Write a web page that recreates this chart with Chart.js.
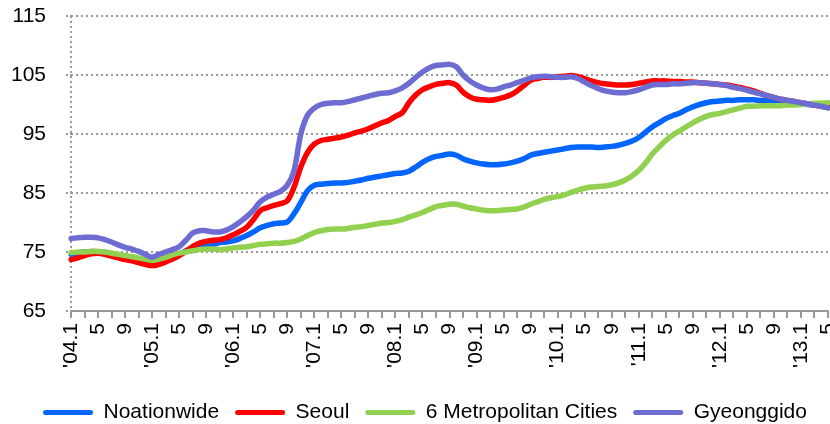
<!DOCTYPE html>
<html>
<head>
<meta charset="utf-8">
<script src="https://cdn.jsdelivr.net/npm/chart.js@4.4.1/dist/chart.umd.min.js"></script>
<style>
  body { margin: 0; background: #fff; }
  #wrap { width: 830px; height: 424px; position: relative; }
</style>
</head>
<body>
<div id="wrap"><canvas id="priceChart"></canvas></div>
<script>
// Monthly categories, Jan 2004 .. May 2013
const years = ['04', '05', '06', '07', '08', '09', '10', '11', '12', '13'];
const months = [];
years.forEach(function(yy) {
    const last = yy === '13' ? 5 : 12;
    for (let m = 1; m <= last; m++) months.push("'" + yy + '.' + m);
});

const nationwide = [
    74.6, 74.8, 75.0, 75.1, 75.0, 74.9, 74.7, 74.5, 74.2, 74.0, 73.8, 73.6,
    73.5, 73.7, 74.0, 74.3, 74.6, 75.2, 75.7, 75.9, 76.0, 76.2, 76.6, 76.7,
    76.9, 77.3, 77.8, 78.4, 79.1, 79.5, 79.8, 79.9, 80.1, 81.5, 83.4, 85.4,
    86.3, 86.5, 86.6, 86.7, 86.7, 86.8, 87.0, 87.2, 87.5, 87.7, 87.9, 88.1,
    88.3, 88.4, 88.7, 89.4, 90.2, 90.8, 91.2, 91.4, 91.6, 91.4, 90.8, 90.4,
    90.1, 89.9, 89.8, 89.8, 89.9, 90.1, 90.4, 90.8, 91.4, 91.7, 91.9, 92.1,
    92.3, 92.5, 92.7, 92.8, 92.8, 92.8, 92.7, 92.8, 92.9, 93.1, 93.4, 93.8,
    94.4, 95.3, 96.2, 96.9, 97.6, 98.1, 98.5, 99.1, 99.6, 100.0, 100.3, 100.5,
    100.6, 100.7, 100.7, 100.8, 100.8, 100.8, 100.7, 100.6, 100.4, 100.3, 100.3, 100.2,
    100.1, 100.0, 99.9, 99.8, 99.6
];

const seoul = [
    73.7, 74.0, 74.4, 74.7, 74.8, 74.6, 74.3, 74.0, 73.7, 73.5, 73.2, 72.9,
    72.7, 72.9, 73.3, 73.8, 74.4, 75.1, 75.9, 76.5, 76.8, 77.0, 77.1, 77.4,
    77.9, 78.5, 79.2, 80.5, 82.0, 82.5, 82.9, 83.2, 83.7, 86.0, 89.4, 91.9,
    93.3, 93.9, 94.1, 94.3, 94.5, 94.8, 95.2, 95.5, 95.9, 96.4, 96.9, 97.3,
    98.0, 98.6, 100.3, 101.6, 102.5, 103.0, 103.4, 103.6, 103.7, 103.3, 102.1, 101.3,
    100.9, 100.8, 100.7, 100.9, 101.2, 101.6, 102.3, 103.2, 104.1, 104.4, 104.6, 104.6,
    104.7, 104.8, 104.9, 104.7, 104.4, 104.0, 103.7, 103.5, 103.4, 103.3, 103.3, 103.4,
    103.6, 103.8, 104.0, 104.0, 104.0, 103.9, 103.9, 103.8, 103.8, 103.7, 103.6, 103.5,
    103.4, 103.3, 103.1, 102.9, 102.6, 102.3, 101.9, 101.5, 101.2, 100.9, 100.7, 100.5,
    100.3, 100.1, 99.9, 99.7, 99.5
];

const metroCities = [
    74.9, 75.0, 75.0, 75.1, 75.1, 75.0, 74.8, 74.6, 74.4, 74.2, 74.0, 73.8,
    73.6, 73.8, 74.1, 74.5, 74.8, 75.0, 75.2, 75.4, 75.5, 75.5, 75.4, 75.5,
    75.7, 75.8, 75.9, 76.1, 76.3, 76.4, 76.5, 76.5, 76.6, 76.8, 77.2, 77.8,
    78.3, 78.6, 78.8, 78.9, 78.9, 79.0, 79.2, 79.3, 79.5, 79.7, 79.9, 80.0,
    80.2, 80.5, 80.9, 81.3, 81.7, 82.2, 82.7, 82.9, 83.1, 83.1, 82.8, 82.5,
    82.3, 82.1, 82.0, 82.0, 82.1, 82.2, 82.3, 82.6, 83.1, 83.5, 83.9, 84.2,
    84.4, 84.7, 85.1, 85.5, 85.8, 86.0, 86.1, 86.2, 86.4, 86.7, 87.2, 87.9,
    88.8, 90.1, 91.6, 92.8, 93.9, 94.8, 95.5, 96.2, 96.9, 97.5, 98.0, 98.3,
    98.5, 98.8, 99.1, 99.4, 99.7, 99.7, 99.8, 99.8, 99.8, 99.8, 99.9, 99.9,
    100.0, 100.1, 100.2, 100.2, 100.3
];

const gyeonggido = [
    77.3, 77.4, 77.5, 77.5, 77.4, 77.1, 76.7, 76.2, 75.8, 75.5, 75.1, 74.6,
    74.1, 74.6, 75.0, 75.4, 75.9, 77.0, 78.2, 78.6, 78.6, 78.4, 78.4, 78.7,
    79.3, 80.1, 81.0, 82.1, 83.5, 84.3, 84.8, 85.3, 86.3, 88.8, 95.0, 98.2,
    99.4, 100.0, 100.2, 100.3, 100.3, 100.5, 100.8, 101.1, 101.4, 101.7, 101.9, 102.0,
    102.3, 102.8, 103.6, 104.6, 105.5, 106.2, 106.6, 106.7, 106.8, 106.4, 105.0, 104.0,
    103.3, 102.8, 102.5, 102.6, 103.0, 103.3, 103.7, 104.1, 104.5, 104.7, 104.8, 104.7,
    104.6, 104.6, 104.7, 104.4, 103.8, 103.2, 102.7, 102.3, 102.1, 102.0, 102.0, 102.2,
    102.5, 102.9, 103.3, 103.4, 103.4, 103.5, 103.5, 103.6, 103.7, 103.7, 103.6, 103.5,
    103.4, 103.2, 102.9, 102.7, 102.4, 102.1, 101.8, 101.5, 101.2, 100.9, 100.7, 100.5,
    100.3, 100.1, 99.9, 99.7, 99.4
];

const seriesNames = ['Noationwide', 'Seoul', '6 Metropolitan Cities', 'Gyeonggido'];
const seriesColors = ['#0066ff', '#ff0000', '#92d050', '#6c6cd2'];
const yTicks = [65, 75, 85, 95, 105, 115];

const FONT = 'Liberation Sans, Arial, sans-serif';
const GRID = '#9a9a9a';

function makeSet(i, data, order) {
    return {
        label: seriesNames[i],
        data: data,
        borderColor: seriesColors[i],
        backgroundColor: seriesColors[i],
        borderWidth: 5.5,
        pointRadius: 0,
        tension: 0.35,
        fill: false,
        borderCapStyle: 'round',
        borderJoinStyle: 'round',
        order: order
    };
}

// nudge the legend row a little to the right of centre
const shiftLegend = {
    id: 'shiftLegend',
    afterLayout: function(chart) {
        if (chart.legend) {
            chart.legend.left += 9;
            chart.legend.right += 9;
        }
    }
};

new Chart(document.getElementById('priceChart'), {
    type: 'line',
    data: {
        labels: months,
        datasets: [
            makeSet(0, nationwide, 4),
            makeSet(1, seoul, 3),
            makeSet(2, metroCities, 2),
            makeSet(3, gyeonggido, 1)
        ]
    },
    plugins: [shiftLegend],
    options: {
        responsive: true,
        maintainAspectRatio: false,
        animation: false,
        layout: { padding: { top: 16, right: 2, left: 4, bottom: -9 } },
        scales: {
            x: {
                offset: false,
                grid: {
                    drawOnChartArea: true,
                    // only the first line is kept, as the dotted left edge of the plot
                    color: function(ctx) { return ctx.index === 0 ? GRID : 'rgba(0,0,0,0)'; },
                    lineWidth: 2,
                    tickColor: GRID,
                    tickLength: 7,
                    tickWidth: 2
                },
                border: { display: true, color: GRID, width: 2, dash: [2, 3] },
                ticks: {
                    autoSkip: false,
                    maxRotation: 90,
                    minRotation: 90,
                    padding: 5,
                    color: '#000',
                    font: { family: FONT, size: 21 },
                    callback: function(value, index) {
                        if (index % 2 === 1) return null;
                        if (index % 4 === 2) return '';
                        const lab = months[index];
                        return lab.endsWith('.1') ? lab : lab.split('.')[1];
                    }
                },
                afterFit: function(axis) {
                    axis.height = 75;
                    axis.paddingLeft = 0;
                    axis.paddingRight = 0;
                }
            },
            y: {
                min: 65,
                max: 115,
                afterBuildTicks: function(axis) {
                    axis.ticks = yTicks.map(function(v) { return { value: v }; });
                },
                grid: {
                    color: GRID,
                    lineWidth: 2,
                    drawTicks: true,
                    tickLength: 5,
                    tickColor: GRID,
                    tickBorderDash: [2, 2]
                },
                border: { display: false, dash: [2, 3] },
                ticks: {
                    padding: 20,
                    color: '#000',
                    font: { family: FONT, size: 21 }
                },
                afterFit: function(axis) {
                    axis.width = 67;
                    axis.paddingTop = 0;
                    axis.paddingBottom = 0;
                }
            }
        },
        plugins: {
            tooltip: { enabled: false },
            legend: {
                position: 'bottom',
                labels: {
                    boxWidth: 50,
                    boxHeight: 5,
                    padding: 16,
                    color: '#000',
                    font: { family: FONT, size: 21 },
                    generateLabels: function(chart) {
                        return chart.data.datasets.map(function(ds, i) {
                            return {
                                text: ds.label,
                                fillStyle: ds.borderColor,
                                strokeStyle: ds.borderColor,
                                lineWidth: 0,
                                borderRadius: 2.5,
                                fontColor: '#000',
                                hidden: false,
                                datasetIndex: i
                            };
                        });
                    }
                }
            }
        }
    }
});
</script>
</body>
</html>
